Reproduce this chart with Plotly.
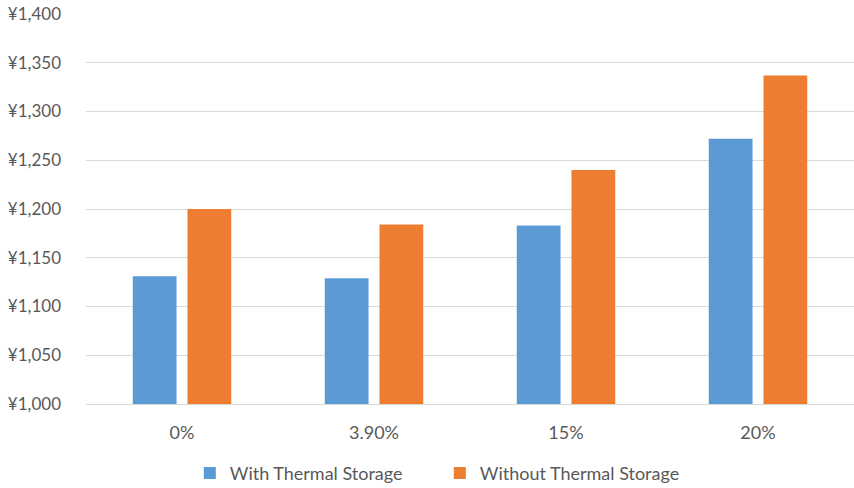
import plotly.graph_objects as go

categories = ["0%", "3.90%", "15%", "20%"]
with_storage = [1131, 1129, 1183, 1272]
without_storage = [1200, 1184, 1240, 1337]
y_ticks = [1000, 1050, 1100, 1150, 1200, 1250, 1300, 1350, 1400]
y_labels = ["¥{:,}".format(v) for v in y_ticks]

FONT = "Lato, Open Sans, sans-serif"
TEXT = "#595959"

fig = go.Figure()
fig.add_trace(go.Bar(x=categories, y=with_storage, name="With Thermal Storage",
                     marker=dict(color="#5B9BD5", line=dict(width=0))))
fig.add_trace(go.Bar(x=categories, y=without_storage, name="Without Thermal Storage",
                     marker=dict(color="#ED7D31", line=dict(width=0))))

fig.update_layout(
    width=854, height=488,
    margin=dict(l=86, r=0, t=14, b=84, autoexpand=False),
    paper_bgcolor="white", plot_bgcolor="white",
    barmode="group", bargap=0.43, bargroupgap=0.2,
    font=dict(family=FONT, size=17, color=TEXT),
    showlegend=True,
    legend=dict(orientation="h", xref="container", yref="container",
                x=0.515, xanchor="center", y=0.03, yanchor="middle",
                font=dict(size=18, color=TEXT), itemwidth=30, entrywidth=205,
                traceorder="normal"),
    xaxis=dict(showgrid=False, showline=True, linecolor="#D9D9D9", linewidth=1,
               automargin=False,
               ticks="", ticklabelstandoff=12, tickfont=dict(size=18, color=TEXT)),
    yaxis=dict(range=[1000, 1400], tickvals=y_ticks, ticktext=y_labels,
               automargin=False,
               showgrid=True, gridcolor="#D9D9D9", gridwidth=1, zeroline=False,
               showline=False, ticks="", ticklabelstandoff=24,
               tickfont=dict(size=17, color=TEXT)),
)

fig.write_html("out.html")
